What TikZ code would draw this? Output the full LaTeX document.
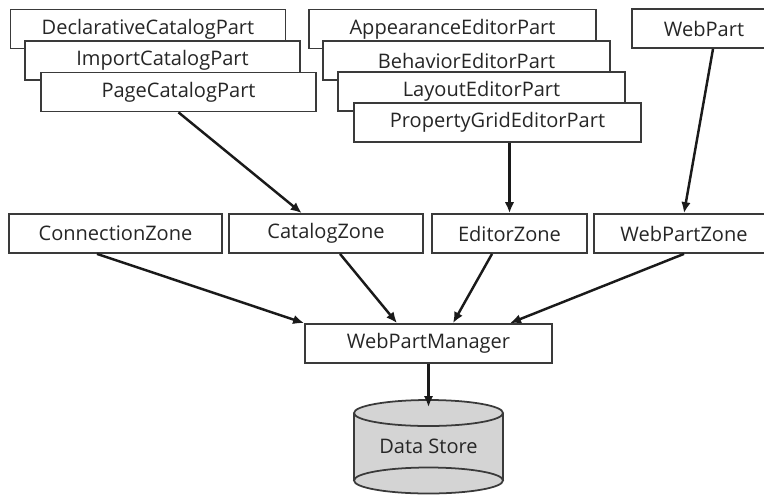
\documentclass[tikz,border=0pt]{standalone}
\usepackage{fontspec}
\setmainfont{Open Sans}
\usepackage{xcolor}
\usepackage{tikz}
\usetikzlibrary{arrows.meta,positioning,calc}
\definecolor{cLine}{HTML}{3A3A3A}
\definecolor{cText}{HTML}{262626}
\definecolor{cArrow}{HTML}{1A1A1A}
\definecolor{cDisk}{HTML}{D4D4D4}
\tikzset{
  blk/.style   = {rectangle, draw=cLine, line width=1pt, fill=white,
                  align=center, font=\fontsize{11.4}{13}\selectfont, text=cText,
                  inner sep=2pt, minimum height=7.8mm},
  catb/.style  = {blk, minimum width=55mm},
  edib/.style  = {blk, minimum width=57.4mm},
  fl/.style    = {-{Latex[length=2.2mm,width=1.9mm]}, draw=cArrow, line width=1.4pt},
}
\begin{document}
\begin{tikzpicture}
  \useasboundingbox (0,0) rectangle (15.28,9.92);

  % catalog parts
  \node[catb] (decl) at (2.96,9.34) {DeclarativeCatalogPart};
  \node[catb] (imp)  at (3.25,8.71) {ImportCatalogPart};
  \node[catb] (page) at (3.57,8.08) {PageCatalogPart};

  % editor parts
  \node[edib] (appr) at (9.05,9.34) {AppearanceEditorPart};
  \node[edib] (behv) at (9.33,8.71) {BehaviorEditorPart};
  \node[edib] (lay)  at (9.63,8.09) {LayoutEditorPart};
  \node[edib] (prop) at (9.95,7.47) {PropertyGridEditorPart};

  \node[blk, minimum width=28.8mm] (webpart) at (14.08,9.35) {WebPart};

  % zones
  \node[blk, minimum width=42.6mm] (conn)   at (2.31,5.25)  {ConnectionZone};
  \node[blk, minimum width=38.8mm] (cat)    at (6.52,5.25)  {CatalogZone};
  \node[blk, minimum width=31mm]   (edit)   at (10.19,5.25) {EditorZone};
  \node[blk, minimum width=36mm]   (wpzone) at (13.68,5.25) {WebPartZone};

  \node[blk, minimum width=49.4mm] (mgr) at (8.57,3.05) {WebPartManager};

  % data store
  \fill[cDisk] (7.08,1.66) -- (7.08,0.31) arc (180:360:1.49 and 0.26) -- (10.06,1.66) arc (0:180:1.49 and 0.26) -- cycle;
  \draw[cLine, line width=1pt] (7.08,1.66) -- (7.08,0.31) (10.06,1.66) -- (10.06,0.31);
  \draw[cLine, line width=1pt] (8.57,1.66) ellipse (1.49 and 0.26);
  \draw[cLine, line width=1pt] (8.57,0.31) ellipse (1.49 and 0.26);
  \node[font=\fontsize{11.4}{13}\selectfont, text=cText] (store) at (8.57,0.99) {Data Store};
  \coordinate (storeIn) at (8.57,1.78);

  \draw[fl] (page.south) -- (cat.140);
  \draw[fl] (edit.north |- prop.south) -- (edit.north);
  \draw[fl] ($(webpart.south)+(0.18,0)$) -- (wpzone.north);
  \draw[fl] ($(conn.south)+(-0.37,0)$) -- (mgr.north west);
  \draw[fl] ($(cat.south)+(0.28,0)$) -- ($(mgr.north)+(-0.63,0)$);
  \draw[fl] ($(edit.south)+(-0.35,0)$) -- ($(mgr.north)+(0.49,0)$);
  \draw[fl] (wpzone.south) -- ($(mgr.north)+(1.63,0)$);
  \draw[fl] (mgr.south) -- (storeIn);
\end{tikzpicture}
\end{document}
